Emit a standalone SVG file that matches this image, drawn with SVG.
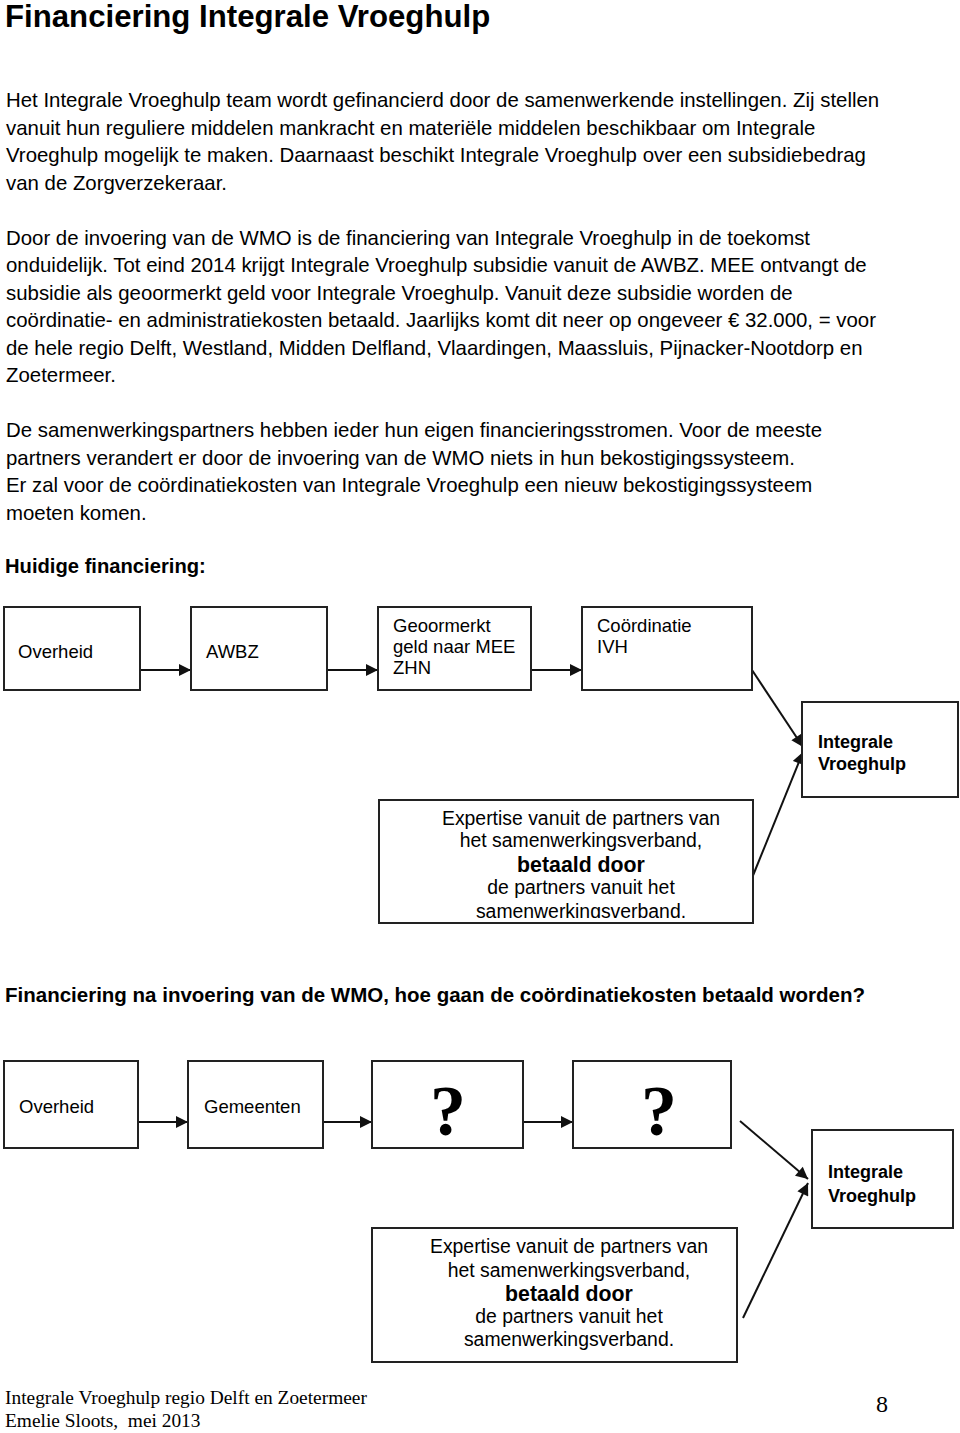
<svg xmlns="http://www.w3.org/2000/svg" width="960" height="1433" viewBox="0 0 960 1433">
<style>
.b{font-family:"Liberation Sans",Arial,sans-serif;font-size:20.4px;fill:#000}
.h{font-family:"Liberation Sans",Arial,sans-serif;font-size:20.2px;font-weight:bold;fill:#000}
.h2{font-family:"Liberation Sans",Arial,sans-serif;font-size:20.5px;font-weight:bold;fill:#000}
.t{font-family:"Liberation Sans",Arial,sans-serif;font-size:31.2px;font-weight:bold;fill:#000}
.l{font-family:"Liberation Sans",Arial,sans-serif;font-size:18.5px;fill:#000}
.lb{font-family:"Liberation Sans",Arial,sans-serif;font-size:18px;font-weight:bold;fill:#000}
.e{font-family:"Liberation Sans",Arial,sans-serif;font-size:19.4px;fill:#000;text-anchor:middle}
.eb{font-family:"Liberation Sans",Arial,sans-serif;font-size:21.3px;font-weight:bold;fill:#000;text-anchor:middle}
.q{font-family:"Liberation Serif","Times New Roman",serif;font-size:72px;font-weight:bold;fill:#000;text-anchor:middle}
.f{font-family:"Liberation Serif","Times New Roman",serif;font-size:19.4px;fill:#000}
.box{fill:#fff;stroke:#222;stroke-width:2}
.c{stroke:#111;stroke-width:2;fill:none;marker-end:url(#ah)}
</style>
<defs>
<marker id="ah" viewBox="0 0 12 12" refX="12" refY="6" markerWidth="13" markerHeight="12" markerUnits="userSpaceOnUse" orient="auto">
<path d="M0,0 L12,6 L0,12 z" fill="#111"/>
</marker>
<clipPath id="clip1"><rect x="379" y="800" width="374" height="118"/></clipPath>
</defs>
<rect width="960" height="1433" fill="#fff"/>

<text class="t" x="5" y="27">Financiering Integrale Vroeghulp</text>

<g id="body">
<text class="b" x="6" y="107">Het Integrale Vroeghulp team wordt gefinancierd door de samenwerkende instellingen. Zij stellen</text>
<text class="b" x="6" y="134.5">vanuit hun reguliere middelen mankracht en materiële middelen beschikbaar om Integrale</text>
<text class="b" x="6" y="162">Vroeghulp mogelijk te maken. Daarnaast beschikt Integrale Vroeghulp over een subsidiebedrag</text>
<text class="b" x="6" y="189.5">van de Zorgverzekeraar.</text>
<text class="b" x="6" y="244.5">Door de invoering van de WMO is de financiering van Integrale Vroeghulp in de toekomst</text>
<text class="b" x="6" y="272">onduidelijk. Tot eind 2014 krijgt Integrale Vroeghulp subsidie vanuit de AWBZ. MEE ontvangt de</text>
<text class="b" x="6" y="299.5">subsidie als geoormerkt geld voor Integrale Vroeghulp. Vanuit deze subsidie worden de</text>
<text class="b" x="6" y="327">coördinatie- en administratiekosten betaald. Jaarlijks komt dit neer op ongeveer € 32.000, = voor</text>
<text class="b" x="6" y="354.5">de hele regio Delft, Westland, Midden Delfland, Vlaardingen, Maassluis, Pijnacker-Nootdorp en</text>
<text class="b" x="6" y="382">Zoetermeer.</text>
<text class="b" x="6" y="437">De samenwerkingspartners hebben ieder hun eigen financieringsstromen. Voor de meeste</text>
<text class="b" x="6" y="464.5">partners verandert er door de invoering van de WMO niets in hun bekostigingssysteem.</text>
<text class="b" x="6" y="492">Er zal voor de coördinatiekosten van Integrale Vroeghulp een nieuw bekostigingssysteem</text>
<text class="b" x="6" y="519.5">moeten komen.</text>
</g>

<text class="h" x="5" y="573">Huidige financiering:</text>

<g id="connectors1">
<line class="c" x1="140" y1="670" x2="191" y2="670"/>
<line class="c" x1="327" y1="670" x2="378" y2="670"/>
<line class="c" x1="531" y1="670" x2="582" y2="670"/>
<line class="c" x1="752" y1="670" x2="803" y2="747"/>
<line class="c" x1="752" y1="878" x2="803" y2="752"/>
</g>

<g id="n1-overheid"><rect class="box" x="4" y="607" width="136" height="83"/><text class="l" x="18" y="658">Overheid</text></g>
<g id="n1-awbz"><rect class="box" x="191" y="607" width="136" height="83"/><text class="l" x="206" y="658">AWBZ</text></g>
<g id="n1-geoormerkt"><rect class="box" x="378" y="607" width="153" height="83"/>
<text class="l" x="393" y="632">Geoormerkt</text><text class="l" x="393" y="653">geld naar MEE</text><text class="l" x="393" y="674">ZHN</text></g>
<g id="n1-coordinatie"><rect class="box" x="582" y="607" width="170" height="83"/>
<text class="l" x="597" y="632">Coördinatie</text><text class="l" x="597" y="653">IVH</text></g>
<g id="n1-ivh"><rect class="box" x="802" y="702" width="156" height="95"/>
<text class="lb" x="818" y="748">Integrale</text><text class="lb" x="818" y="770">Vroeghulp</text></g>
<g id="n1-expertise"><rect class="box" x="379" y="800" width="374" height="123"/>
<g clip-path="url(#clip1)">
<text class="e" x="581" y="825">Expertise vanuit de partners van</text>
<text class="e" x="581" y="847">het samenwerkingsverband,</text>
<text class="eb" x="581" y="872">betaald door</text>
<text class="e" x="581" y="894">de partners vanuit het</text>
<text class="e" x="581" y="918">samenwerkingsverband.</text>
</g></g>

<text class="h2" x="5" y="1002">Financiering na invoering van de WMO, hoe gaan de coördinatiekosten betaald worden?</text>

<g id="connectors2">
<line class="c" x1="138" y1="1122" x2="188" y2="1122"/>
<line class="c" x1="323" y1="1122" x2="372" y2="1122"/>
<line class="c" x1="523" y1="1122" x2="573" y2="1122"/>
<line class="c" x1="740" y1="1121" x2="808" y2="1179"/>
<line class="c" x1="743" y1="1318" x2="808" y2="1183"/>
</g>

<g id="n2-overheid"><rect class="box" x="4" y="1061" width="134" height="87"/><text class="l" x="19" y="1113">Overheid</text></g>
<g id="n2-gemeenten"><rect class="box" x="188" y="1061" width="135" height="87"/><text class="l" x="204" y="1113">Gemeenten</text></g>
<g id="n2-q1"><rect class="box" x="372" y="1061" width="151" height="87"/><text class="q" x="448" y="1135">?</text></g>
<g id="n2-q2"><rect class="box" x="573" y="1061" width="158" height="87"/><text class="q" x="659" y="1135">?</text></g>
<g id="n2-ivh"><rect class="box" x="812" y="1130" width="141" height="98"/>
<text class="lb" x="828" y="1178">Integrale</text><text class="lb" x="828" y="1202">Vroeghulp</text></g>
<g id="n2-expertise"><rect class="box" x="372" y="1228" width="365" height="134"/>
<text class="e" x="569" y="1253">Expertise vanuit de partners van</text>
<text class="e" x="569" y="1277">het samenwerkingsverband,</text>
<text class="eb" x="569" y="1301">betaald door</text>
<text class="e" x="569" y="1323">de partners vanuit het</text>
<text class="e" x="569" y="1346">samenwerkingsverband.</text>
</g>

<g id="footer">
<text class="f" x="5" y="1404">Integrale Vroeghulp regio Delft en Zoetermeer</text>
<text class="f" x="5" y="1427" xml:space="preserve">Emelie Sloots,  mei 2013</text>
<text class="f" x="876" y="1412" style="font-size:24px">8</text>
</g>
</svg>
